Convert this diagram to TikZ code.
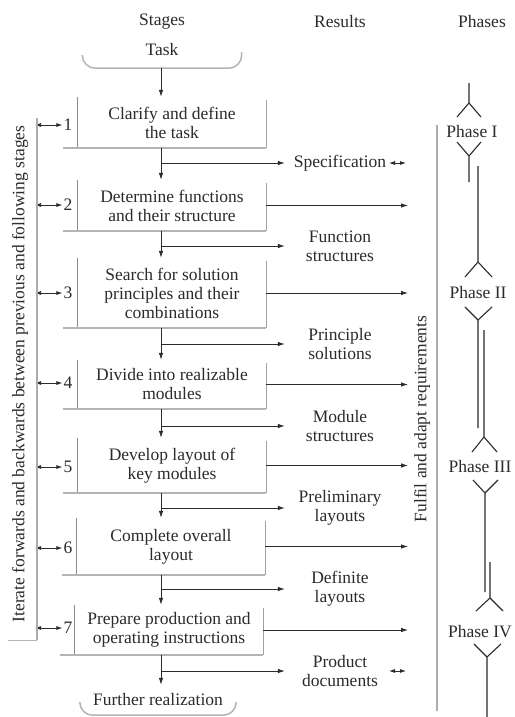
\documentclass[tikz,border=0pt]{standalone}
\usepackage{fontspec}
\setmainfont{Liberation Serif}
\usetikzlibrary{arrows.meta,calc}
\definecolor{ink}{HTML}{2B2B2B}
\definecolor{frameD}{HTML}{8A8A8A}
\definecolor{frameL}{HTML}{B4B4B4}
\tikzset{
  arr/.style={draw=ink, line width=0.8pt, -{Latex[length=7pt,width=4.5pt]}},
  darr/.style={draw=ink, line width=0.8pt, {Latex[length=6pt,width=4pt]}-{Latex[length=6pt,width=4pt]}},
  sdarr/.style={draw=ink, line width=0.8pt, {Latex[length=6pt,width=4pt]}-{Latex[length=6pt,width=4pt]}},
  stagebox/.style={minimum width=188pt, inner sep=0pt, align=center},
  resnode/.style={minimum width=110pt, inner sep=0pt, align=center},
  numnode/.style={inner sep=1pt},
  phl/.style={draw=ink, line width=1.1pt},
  leftline/.style={draw=frameD, line width=0.8pt},
  rightline/.style={draw=frameD!80, line width=1pt},
  shadowline/.style={draw=frameL, line width=2pt},
  bracket/.style={draw=frameL, line width=1.5pt, rounded corners=13pt},
}
\newcommand{\stagelines}[1]{%
  \draw[leftline] (#1.north west) -- (#1.south west);
  \draw[rightline] ([yshift=-3pt]#1.north east) -- (#1.south east);
  \draw[shadowline] ([xshift=-15pt]#1.south west) -- (#1.south east);
}
\begin{document}
\begin{tikzpicture}[x=1pt, y=-1pt, font=\fontsize{17.5}{19}\selectfont, text=ink]
\fill[white] (0,0) rectangle (514,717);
\useasboundingbox (0,0) rectangle (514,717);

% headers
\node (hs) at (162,22) {Stages};
\node (hr) at (340,22) {Results};
\node (hp) at (482,22) {Phases};

% helper x positions
\coordinate (ax) at (161,0);
\coordinate (rx) at (408,0);
\coordinate (lx) at (35,0);
\coordinate (sxa) at (389,0);
\coordinate (sxb) at (406,0);

% task and end
\node[minimum width=159pt, minimum height=36pt] (task) at (162,50) {Task};
\draw[bracket] ([yshift=12pt]task.south west) -- (task.south west) -- (task.south east) -- ([yshift=16pt]task.south east);
\node[minimum width=156pt, minimum height=30pt] (further) at (158,700) {Further realization};
\draw[bracket] ([yshift=12pt]further.south west) -- (further.south west) -- (further.south east) -- ([yshift=12pt]further.south east);

% stages
\node[stagebox, minimum height=51pt] (s1) at (172,122.5) {Clarify and define\\the task};
\node[stagebox, minimum height=51pt] (s2) at (172,205.5) {Determine functions\\and their structure};
\node[stagebox, minimum height=70pt] (s3) at (172,293) {Search for solution\\principles and their\\combinations};
\node[stagebox, minimum height=49pt] (s4) at (172,384.5) {Divide into realizable\\modules};
\node[stagebox, minimum height=55pt] (s5) at (172,465.5) {Develop layout of\\key modules};
\node[stagebox, minimum height=57pt] (s6) at (171,546.5) {Complete overall\\layout};
\node[stagebox, minimum height=50pt] (s7) at (169,630) {Prepare production and\\operating instructions};
\stagelines{s1}\stagelines{s2}\stagelines{s3}\stagelines{s4}\stagelines{s5}\stagelines{s6}\stagelines{s7}

% numbers
\node[numnode] (n1) at (68,125) {1};
\node[numnode] (n2) at (68,205) {2};
\node[numnode] (n3) at (68,293) {3};
\node[numnode] (n4) at (68,383) {4};
\node[numnode] (n5) at (68,467) {5};
\node[numnode] (n6) at (68,548) {6};
\node[numnode] (n7) at (68,628) {7};
\foreach \n in {n1,n2,n3,n4,n5,n6,n7} {\draw[darr] (lx |- \n) -- (\n.west);}

% results
\node[resnode] (r1) at (340,163) {Specification};
\node[resnode] (r2) at (340,246) {Function\\structures};
\node[resnode] (r3) at (340,344) {Principle\\solutions};
\node[resnode] (r4) at (340,426) {Module\\structures};
\node[resnode] (r5) at (340,508) {Preliminary\\layouts};
\node[resnode] (r6) at (340,589) {Definite\\layouts};
\node[resnode] (r7) at (340,671) {Product\\documents};

% vertical flow
\draw[arr] (ax |- task.south) -- (ax |- s1.north);
\draw[arr] (ax |- s1.south) -- (ax |- s2.north);
\draw[arr] (ax |- s2.south) -- (ax |- s3.north);
\draw[arr] (ax |- s3.south) -- (ax |- s4.north);
\draw[arr] (ax |- s4.south) -- (ax |- s5.north);
\draw[arr] (ax |- s5.south) -- (ax |- s6.north);
\draw[arr] (ax |- s6.south) -- (ax |- s7.north);
\draw[arr] (ax |- s7.south) -- (ax |- further.north);

% branches to results
\foreach \r in {r1,r2,r3,r4,r5,r6,r7} {\draw[arr] (ax |- \r.west) -- (\r.west);}

% arrows to requirements
\foreach \s in {s2,s3,s4,s5,s6,s7} {\draw[arr] (\s.east) -- (\s.east -| rx);}

% small double arrows
\draw[sdarr] (sxa |- r1) -- (sxb |- r1);
\draw[sdarr] (sxa |- r7) -- (sxb |- r7);

% side bars
\node[rotate=90] (iter) at (20,374) {Iterate forwards and backwards between previous and following stages};
\draw[draw=frameD!70, line width=1.2pt] (37,118) -- (37,640);
\draw[draw=frameL, line width=1pt] (37,640) -- (8,640);
\node[rotate=90] (fulfil) at (422,419) {Fulfil and adapt requirements};
\draw[draw=frameD!70, line width=1.2pt] (437,125) -- (437,711);

% phases
\node (p1) at (472,132) {Phase I};
\node (p2) at (478,293) {Phase II};
\node (p3) at (480,467) {Phase III};
\node (p4) at (480,632) {Phase IV};
\draw[phl] (469,83) -- (469,103) (457,117) -- (469,103) -- (481,117);
\draw[phl] (457,142) -- (469,156) -- (481,142) (469,156) -- (469,182);
\draw[phl] (478,166) -- (478,262) (465,277) -- (478,262) -- (492,277);
\draw[phl] (465,307) -- (478,320) -- (492,307) (478,320) -- (478,428);
\draw[phl] (484,330) -- (484,437) (472,452) -- (484,437) -- (497,452);
\draw[phl] (473,480) -- (485,493) -- (498,480) (485,493) -- (485,592);
\draw[phl] (490,562) -- (490,598) (476,611) -- (490,598) -- (503,611);
\draw[phl] (474,644) -- (487,657) -- (501,644) (487,657) -- (487,717);
\end{tikzpicture}
\end{document}
